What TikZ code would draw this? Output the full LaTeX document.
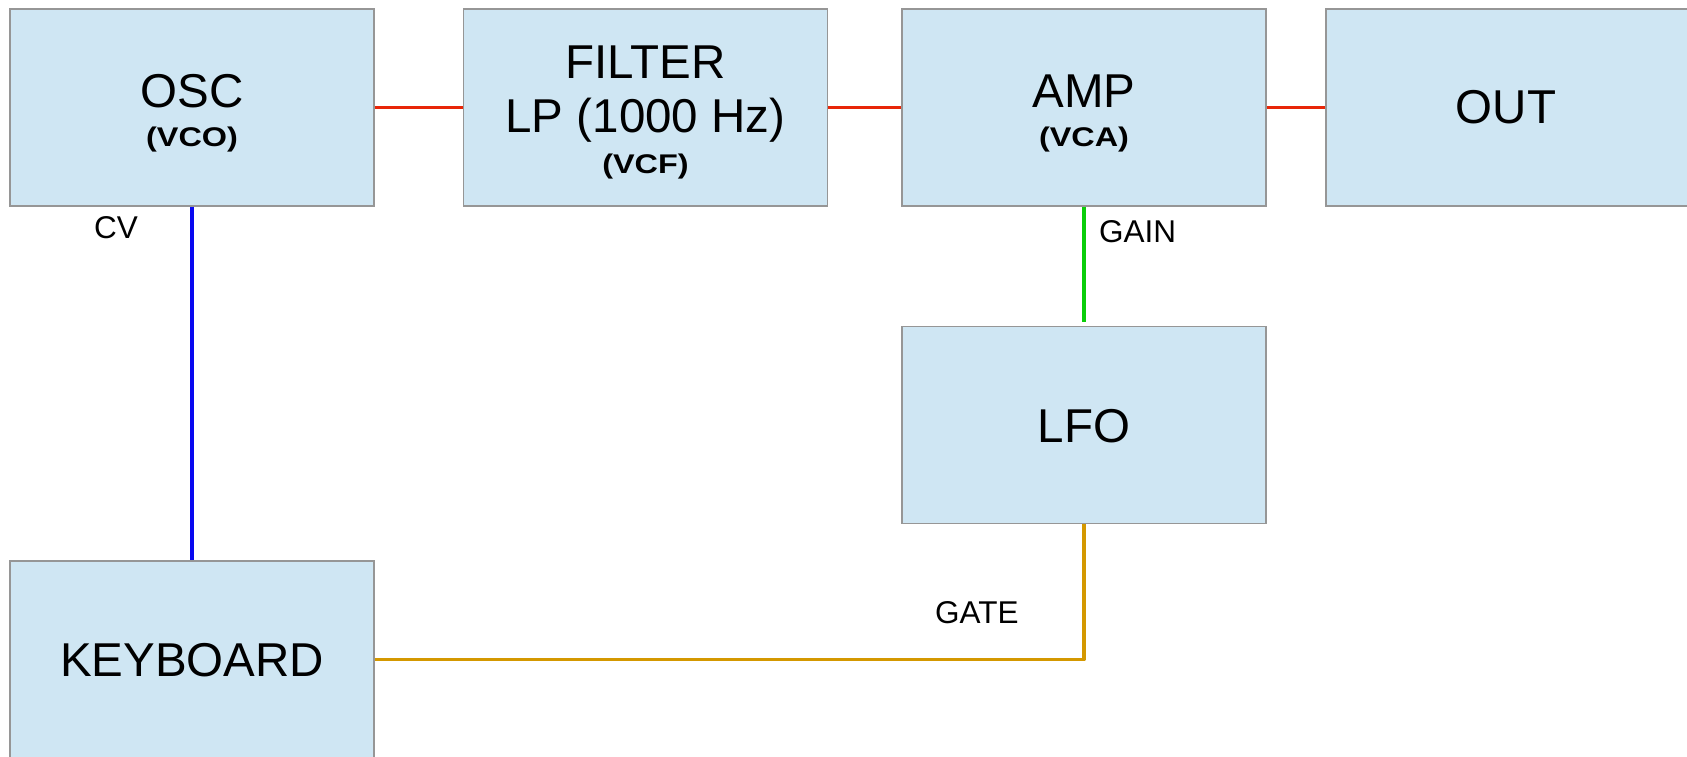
\documentclass[tikz,border=0pt]{standalone}
\usepackage{fontspec}
\usepackage{graphicx}
\setmainfont{Liberation Sans}
\definecolor{sigred}{RGB}{232,38,8}
\definecolor{cvblue}{RGB}{8,8,240}
\definecolor{gaingreen}{RGB}{10,206,10}
\definecolor{gategold}{RGB}{212,152,0}
\definecolor{boxfill}{RGB}{207,230,243}
\definecolor{boxgray}{RGB}{150,150,150}
\newcommand{\stretchbold}[1]{\scalebox{1.2}[1]{#1}}
\begin{document}
\begin{tikzpicture}[x=1pt,y=-1pt,
  modbox/.style={draw=boxgray, line width=1.3pt, fill=boxfill, inner sep=0pt,
    minimum width=364pt, minimum height=197pt},
  bigtxt/.style={inner sep=0pt, anchor=base, font=\fontsize{47.5}{56}\selectfont},
  subtxt/.style={inner sep=0pt, anchor=base, font=\fontsize{27}{32}\selectfont\bfseries},
  lbltxt/.style={inner sep=0pt, anchor=base west, font=\fontsize{31.5}{37}\selectfont},
  audio/.style={draw=sigred, line width=3.6pt},
  cvline/.style={draw=cvblue, line width=4pt},
  gainline/.style={draw=gaingreen, line width=3.6pt},
  gateline/.style={draw=gategold, line width=3.6pt, line join=round}]
\fill[white] (0,0) rectangle (1687,756);
\useasboundingbox (0,0) rectangle (1687,756);

% boxes
\node[modbox] (osc) at (192,107.5) {};
\node[modbox] (filter) at (645.5,107.5) {};
\node[modbox] (amp) at (1084,107.5) {};
\node[modbox] (out) at (1508,107.5) {};
\node[modbox] (lfo) at (1084,425) {};
\node[modbox] (kbd) at (192,659.5) {};

% box texts
\node[bigtxt] (osct) at (192,107) {OSC};
\node[subtxt] (oscs) at (192,146.5) {\stretchbold{(VCO)}};
\node[bigtxt] (filt1) at (645.5,78.5) {FILTER};
\node[bigtxt] (filt2) at (645.5,132) {LP (1000 Hz)};
\node[subtxt] (filts) at (645.5,173) {\stretchbold{(VCF)}};
\node[bigtxt] (ampt) at (1084,107) {AMP};
\node[subtxt] (amps) at (1084,146.5) {\stretchbold{(VCA)}};
\node[bigtxt] (outt) at (1506,123) {OUT};
\node[bigtxt] (lfot) at (1084,442) {LFO};
\node[bigtxt] (kbdt) at (192,676) {KEYBOARD};

% connectors
\draw[audio] (osc.east) -- (filter.west);
\draw[audio] (filter.east) -- (amp.west);
\draw[audio] (amp.east) -- (out.west);
\draw[cvline] (osc.south) -- (kbd.north);
\draw[gainline, shorten >=4pt] (amp.south) -- (lfo.north);
\draw[gateline] (kbd.east) -| (lfo.south);

% connector labels
\node[lbltxt] (cvl) at (94,238) {CV};
\node[lbltxt] (gainl) at (1099,242) {GAIN};
\node[lbltxt] (gatel) at (935,623) {GATE};
\end{tikzpicture}
\end{document}
